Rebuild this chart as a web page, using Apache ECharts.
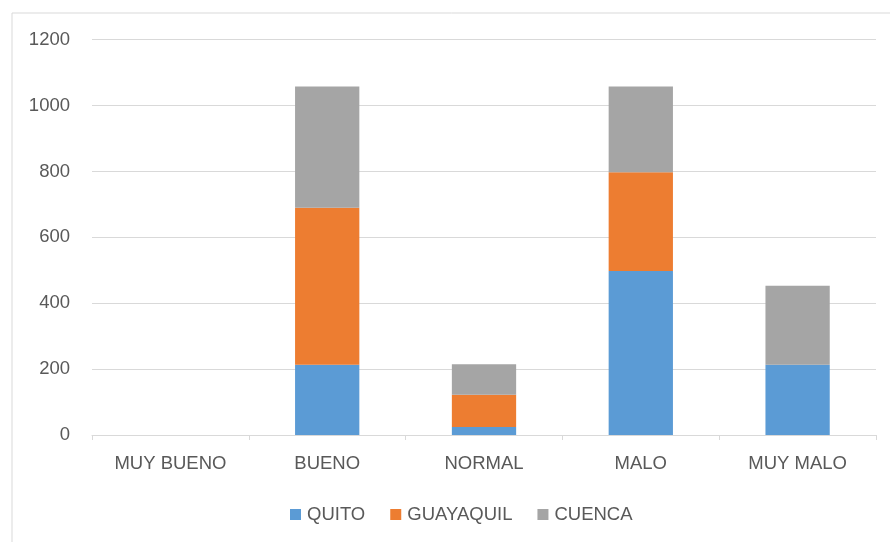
<!DOCTYPE html>
<html>
<head>
<meta charset="utf-8">
<script src="https://cdn.jsdelivr.net/npm/echarts@6/dist/echarts.min.js"></script>
<style>
html,body{margin:0;padding:0;background:#fff;}
#chart{width:890px;height:542px;}
</style>
</head>
<body>
<div id="chart"></div>
<script>
var categories = ['MUY BUENO', 'BUENO', 'NORMAL', 'MALO', 'MUY MALO'];
var quito = [0, 213, 24, 498, 213];
var guayaquil = [0, 477, 98, 300, 0];
var cuenca = [0, 368, 93, 260, 240];
var seriesNames = ['QUITO', 'GUAYAQUIL', 'CUENCA'];
var yTicks = {min: 0, max: 1200, interval: 200};

var FONT = '"Liberation Sans", Arial, sans-serif';
var TXT = '#595959';
var chart = echarts.init(document.getElementById('chart'), null, {renderer: 'canvas'});
function bar(name, data, color) {
  return {
    name: name, type: 'bar', stack: 'total', data: data,
    barWidth: '41%',
    itemStyle: {color: color},
    emphasis: {disabled: true}
  };
}
chart.setOption({
  animation: false,
  textStyle: {fontFamily: FONT},
  graphic: [{
    type: 'rect', left: 9.5, top: 10.5, silent: true,
    shape: {width: 900, height: 600},
    style: {fill: 'none', stroke: '#D9D9D9', lineWidth: 1}
  }],
  grid: {left: 92, right: 14, top: 39.7, bottom: 107, containLabel: false},
  legend: {
    data: seriesNames,
    top: 500, left: 285,
    itemWidth: 11, itemHeight: 11, itemGap: 25,
    icon: 'rect',
    textStyle: {color: TXT, fontSize: 18.5, fontFamily: FONT, padding: [0, 0, 0, 1]}
  },
  xAxis: {
    type: 'category', data: categories,
    axisLine: {show: true, lineStyle: {color: '#D9D9D9', width: 1}},
    axisTick: {show: true, length: 5, lineStyle: {color: '#D9D9D9'}},
    axisLabel: {color: TXT, fontSize: 18.5, fontFamily: FONT, margin: 19}
  },
  yAxis: {
    type: 'value', min: yTicks.min, max: yTicks.max, interval: yTicks.interval,
    axisLine: {show: false}, axisTick: {show: false},
    splitLine: {lineStyle: {color: '#D9D9D9', width: 1}},
    axisLabel: {color: TXT, fontSize: 18.5, fontFamily: FONT, margin: 22,
      formatter: function (v) { return String(v); }}
  },
  series: [
    bar(seriesNames[0], quito, '#5B9BD5'),
    bar(seriesNames[1], guayaquil, '#ED7D31'),
    bar(seriesNames[2], cuenca, '#A5A5A5')
  ]
});
</script>
</body>
</html>
